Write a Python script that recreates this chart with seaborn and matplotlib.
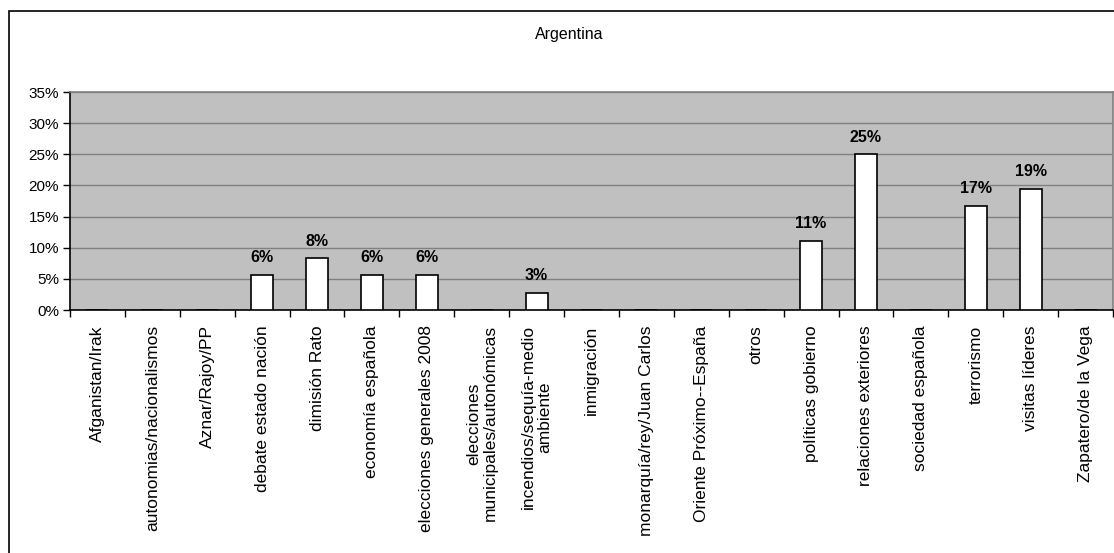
import numpy as np
import pandas as pd
import matplotlib
matplotlib.use("Agg")
import matplotlib.pyplot as plt
import seaborn as sns
from matplotlib.patches import Rectangle
from matplotlib.ticker import PercentFormatter, FixedLocator

title = "Argentina"
categories = [
    "Afganistan/Irak",
    "autonomias/nacionalismos",
    "Aznar/Rajoy/PP",
    "debate estado nación",
    "dimisión Rato",
    "economía española",
    "elecciones generales 2008",
    "elecciones\nmunicipales/autonómicas",
    "incendios/sequía-medio\nambiente",
    "inmigración",
    "monarquía/rey/Juan Carlos",
    "Oriente Próximo--España",
    "otros",
    "políticas gobierno",
    "relaciones exteriores",
    "sociedad española",
    "terrorismo",
    "visitas líderes",
    "Zapatero/de la Vega",
]
shares = [0, 0, 0, 0.056, 0.083, 0.056, 0.056, 0, 0.028, 0, 0, 0, 0,
          0.111, 0.25, 0, 0.167, 0.194, 0]
yticks = [0, 0.05, 0.10, 0.15, 0.20, 0.25, 0.30, 0.35]

df = pd.DataFrame({"topic": categories, "share": shares})

plt.rcParams['font.family'] = ['Liberation Sans', 'DejaVu Sans']

W, H = 1114, 553
fig = plt.figure(figsize=(W / 100, H / 100), dpi=100)
fig.patch.set_facecolor("white")

# outer chart frame (cropped on right / bottom like the original)
fig.patches.append(Rectangle((9 / W, -0.1), 1.2, 1 - 11 / H + 0.1,
                             transform=fig.transFigure, fill=False,
                             edgecolor="black", linewidth=1.2))

x0, x1, y0, y1 = 70, 1113, 92, 310
ax = fig.add_axes([x0 / W, 1 - y1 / H, (x1 - x0) / W, (y1 - y0) / H])
ax.set_facecolor("#C0C0C0")

sns.barplot(data=df, x="topic", y="share", color="white", edgecolor="black",
            linewidth=1.2, width=0.4, saturation=1, ax=ax, zorder=3)

ax.set_ylim(0, 0.35)
ax.set_xlim(-0.5, len(categories) - 0.5)
ax.set_yticks(yticks)
ax.yaxis.set_major_formatter(PercentFormatter(1.0, decimals=0))
ax.grid(axis="y", color="#808080", linewidth=1, zorder=0)
ax.set_axisbelow(True)

ax.set_xticks(range(len(categories)))
ax.set_xticklabels(categories, rotation=90, ha="center", va="top",
                   multialignment="center", fontsize=12.5, linespacing=1.15)
ax.xaxis.set_minor_locator(FixedLocator(np.arange(-0.5, len(categories), 1)))
ax.tick_params(axis="x", which="major", length=0, pad=11)
ax.tick_params(axis="x", which="minor", length=5, width=1, color="black", direction="out")
ax.tick_params(axis="y", length=5, width=1, direction="out", labelsize=11, pad=3)
ax.set_xlabel("")
ax.set_ylabel("")

for side in ["top", "right"]:
    ax.spines[side].set_color("#808080")
    ax.spines[side].set_linewidth(1.2)
for side in ["left", "bottom"]:
    ax.spines[side].set_color("black")
    ax.spines[side].set_linewidth(1.2)

labels = [f"{v:.0%}" if v > 0 else "" for v in shares]
ax.bar_label(ax.containers[0], labels=labels, padding=7, fontsize=11.5,
             fontweight="bold")

fig.text(569 / W, 1 - 35 / H, title, ha="center", va="center", fontsize=11.5)

fig.savefig("out.png", dpi=100)
